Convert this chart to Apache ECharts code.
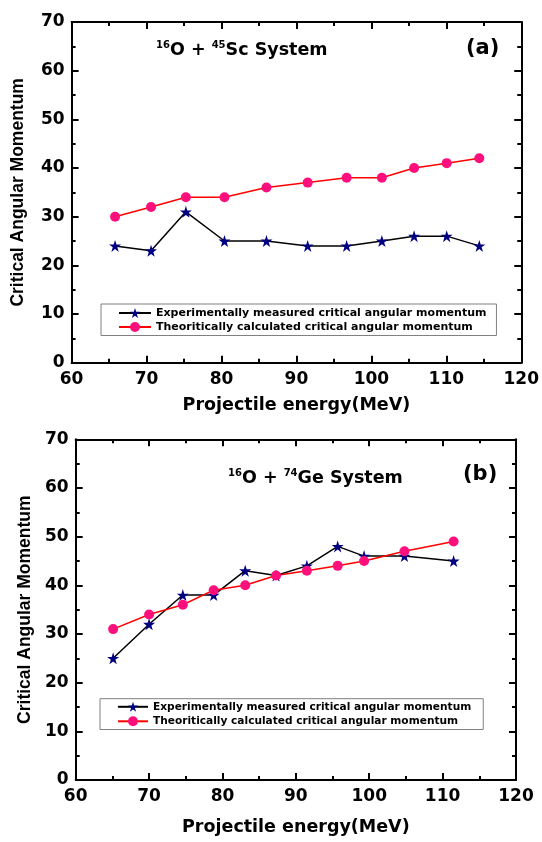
<!DOCTYPE html>
<html>
<head>
<meta charset="utf-8">
<script src="https://cdn.jsdelivr.net/npm/echarts@6/dist/echarts.min.js"></script>
<style>
  html, body { margin: 0; padding: 0; background: #fff; }
  #chart { width: 542px; height: 842px; }
</style>
</head>
<body>
<div id="chart"></div>
<script>
// ---- data ----
const xTop = [65.8, 70.6, 75.25, 80.4, 86.0, 91.5, 96.7, 101.4, 105.7, 110.05, 114.4];
const expTop = [24, 23, 31, 25, 25, 24, 24, 25, 26, 26, 24];
const theoTop = [30, 32, 34, 34, 36, 37, 38, 38, 40, 41, 42];

const xBot = [65.1, 70.0, 74.6, 78.8, 83.1, 87.3, 91.5, 95.7, 99.3, 104.8, 111.5];
const expBot = [25, 32, 38, 38, 43, 42, 44, 48, 46, 46, 45];
const theoBot = [31, 34, 36, 39, 40, 42, 43, 44, 45, 47, 49];

const seriesNames = ['Experimentally measured critical angular momentum',
                     'Theoritically calculated critical angular momentum'];
const xTitle = 'Projectile energy(MeV)';
const yTitle = 'Critical Angular Momentum';

const STAR = 'path://M100,0 L122.45,69.1 L195.1,69.1 L136.3,111.8 L158.8,180.9 L100,138.2 L41.2,180.9 L63.7,111.8 L4.9,69.1 L77.55,69.1 Z';
const FONT = 'DejaVu Sans';

function pairs(xs, ys) { return xs.map((x, i) => [x, ys[i]]); }

function axisCommon(showLabel) {
  return {
    axisLine: { show: true, onZero: false, lineStyle: { color: '#000', width: 2 } },
    axisTick: { show: true, inside: true, length: 7, lineStyle: { color: '#000', width: 2 } },
    minorTick: { show: true, splitNumber: 2, length: 4, lineStyle: { color: '#000', width: 2 } },
    splitLine: { show: false },
    minorSplitLine: { show: false },
    axisLabel: {
      show: showLabel, color: '#000', fontFamily: FONT, fontWeight: 'bold', fontSize: 17,
      showMinLabel: true, showMaxLabel: true
    }
  };
}

function xAxisDef(gi, pos, showLabel, nameGap) {
  const a = Object.assign({
    type: 'value', gridIndex: gi, position: pos, min: 60, max: 120, interval: 10
  }, axisCommon(showLabel));
  a.axisLabel.margin = 8;
  if (showLabel) {
    a.name = xTitle; a.nameLocation = 'middle'; a.nameGap = nameGap;
    a.nameTextStyle = { color: '#000', fontFamily: FONT, fontWeight: 'bold', fontSize: 17.5 };
  }
  return a;
}
function yAxisDef(gi, pos, showLabel, nameGap) {
  const a = Object.assign({
    type: 'value', gridIndex: gi, position: pos, min: 0, max: 70, interval: 10
  }, axisCommon(showLabel));
  a.axisLabel.margin = 7;
  if (showLabel) {
    a.name = yTitle; a.nameLocation = 'middle'; a.nameGap = nameGap; a.nameRotate = 90;
    a.nameTextStyle = { color: '#000', fontFamily: 'Liberation Sans', fontWeight: 'bold', fontSize: 17.5 };
  }
  return a;
}

function legendDef(left, top, fs, iw, padding, gap) {
  return {
    data: seriesNames, orient: 'vertical', left: left, top: top,
    itemWidth: iw, itemHeight: 12.5, itemGap: gap,
    padding: padding, borderColor: '#808080', borderWidth: 1, borderRadius: 0,
    backgroundColor: '#fff', selectedMode: false,
    textStyle: { color: '#000', fontFamily: FONT, fontWeight: 'bold', fontSize: fs }
  };
}

function lineSeries(name, xi, yi, data, isExp) {
  return {
    type: 'line', name: name, xAxisIndex: xi, yAxisIndex: yi, data: data,
    symbol: isExp ? STAR : 'circle', symbolSize: isExp ? 12 : 10,
    showAllSymbol: true, animation: false,
    lineStyle: { color: isExp ? '#000' : '#ff0000', width: 1.5 },
    itemStyle: { color: isExp ? '#000080' : '#ff0f7b', borderWidth: 0 },
    emphasis: { disabled: true }
  };
}

function titleText(left, y, sup1, a, sup2, b) {
  return {
    type: 'text', left: left, top: y - 10, z: 100,
    style: {
      text: '{s|' + sup1 + '}{m|' + a + '}{s|' + sup2 + '}{m|' + b + '}',
      rich: {
        m: { fontFamily: FONT, fontWeight: 'bold', fontSize: 17.5, lineHeight: 20, verticalAlign: 'middle', fill: '#000' },
        s: { fontFamily: FONT, fontWeight: 'bold', fontSize: 10, lineHeight: 8, verticalAlign: 'top', fill: '#000' }
      }
    }
  };
}
function panelLabel(left, y, txt) {
  return {
    type: 'text', left: left, top: y - 13, z: 100,
    style: { text: txt, fontFamily: FONT, fontWeight: 'bold', fontSize: 21, fill: '#000' }
  };
}

const chart = echarts.init(document.getElementById('chart'), null, { renderer: 'canvas' });
chart.setOption({
  backgroundColor: '#fff',
  animation: false,
  grid: [
    { left: 71.6, top: 22, width: 453.4, height: 340.7 },
    { left: 75.7, top: 439.3, width: 440.3, height: 340.7 }
  ],
  xAxis: [
    xAxisDef(0, 'bottom', true, 34),
    xAxisDef(0, 'top', false),
    xAxisDef(1, 'bottom', true, 38),
    xAxisDef(1, 'top', false)
  ],
  yAxis: [
    yAxisDef(0, 'left', true, 44),
    yAxisDef(0, 'right', false),
    yAxisDef(1, 'left', true, 42),
    yAxisDef(1, 'right', false)
  ],
  legend: [
    legendDef(101, 304, 11, 32, [3.5, 10, 3, 17], 3),
    legendDef(100, 698.7, 10.6, 30, [2.6, 12, 2.7, 17], 3.5)
  ],
  graphic: [
    titleText(156, 50, '16', 'O + ', '45', 'Sc System'),
    panelLabel(466, 51, '(a)'),
    titleText(228, 478, '16', 'O + ', '74', 'Ge System'),
    panelLabel(463, 477, '(b)')
  ],
  series: [
    lineSeries(seriesNames[0], 0, 0, pairs(xTop, expTop), true),
    lineSeries(seriesNames[1], 0, 0, pairs(xTop, theoTop), false),
    lineSeries(seriesNames[0], 2, 2, pairs(xBot, expBot), true),
    lineSeries(seriesNames[1], 2, 2, pairs(xBot, theoBot), false)
  ]
});
</script>
</body>
</html>
